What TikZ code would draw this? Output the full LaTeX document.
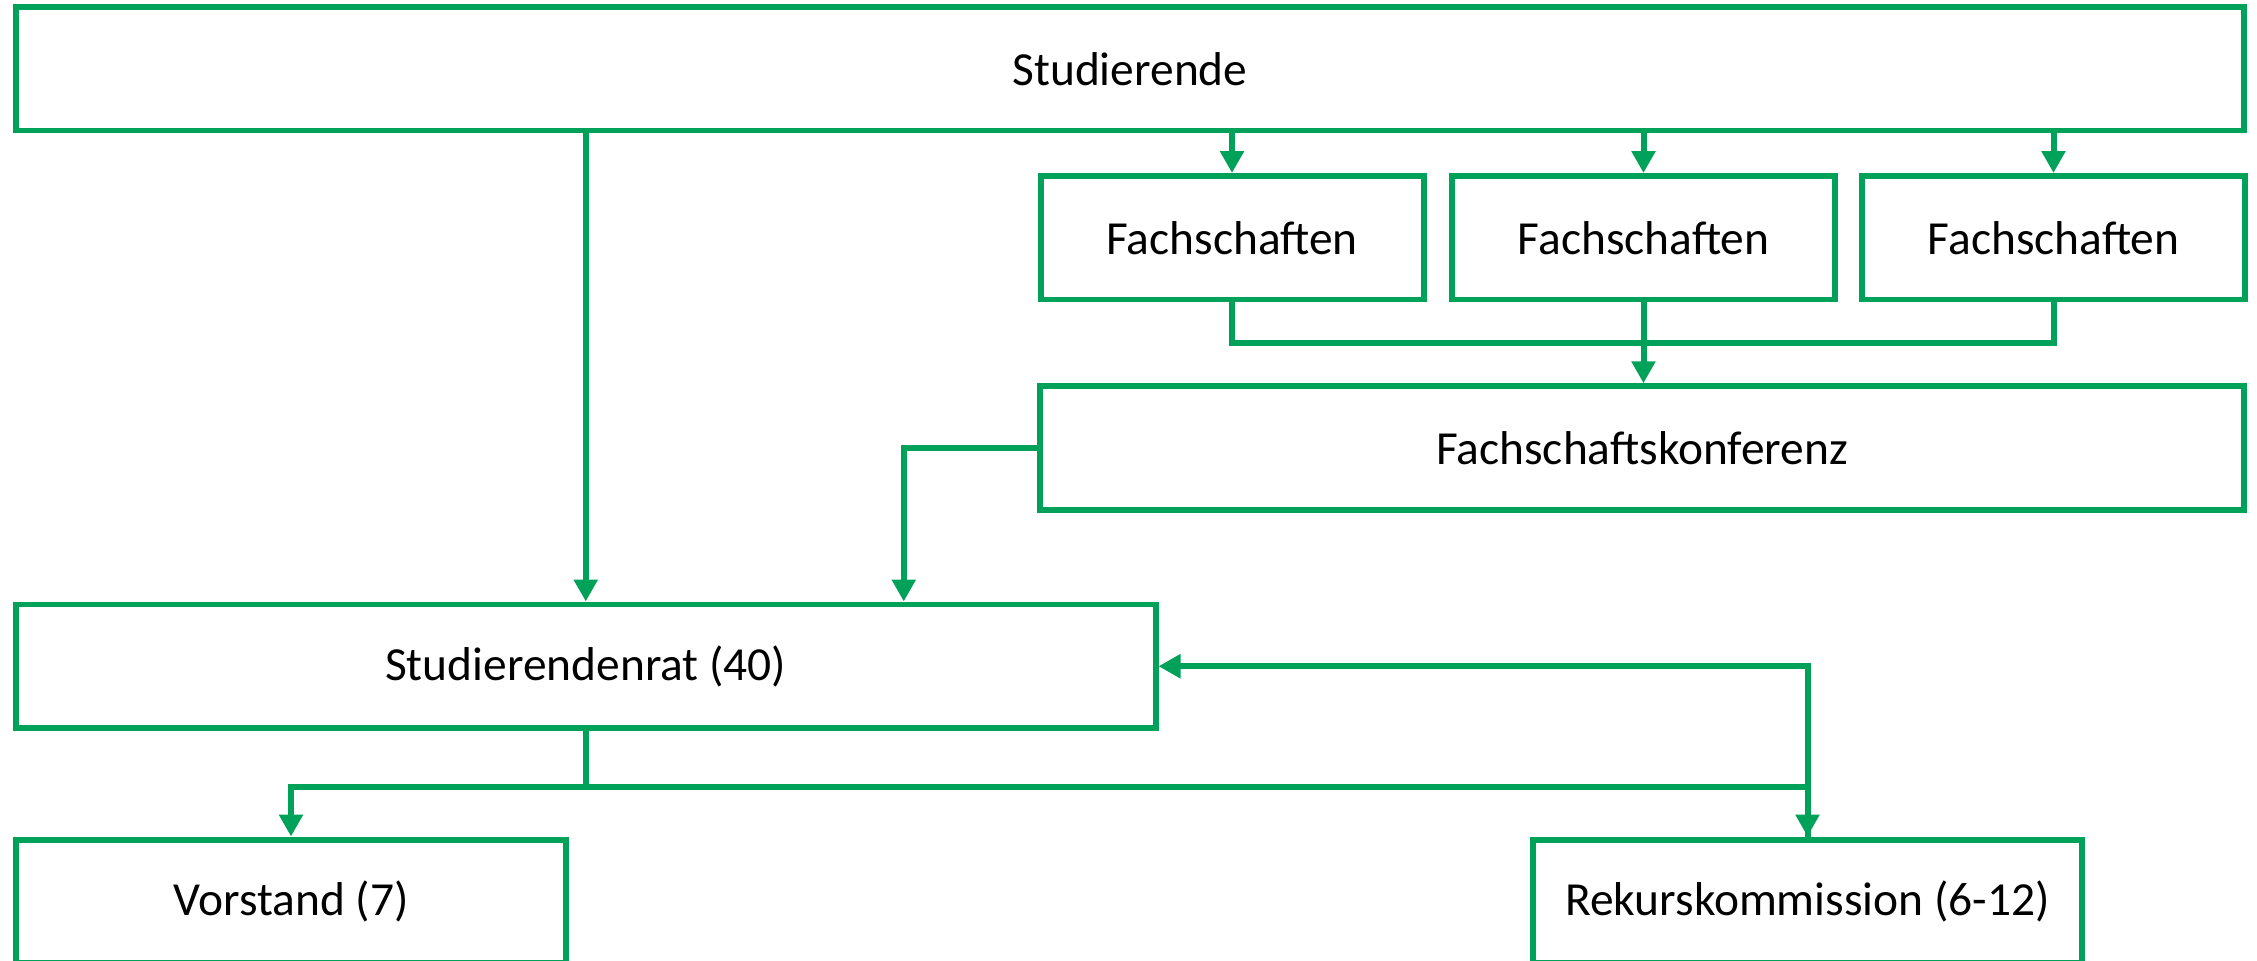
\documentclass[tikz,border=0pt]{standalone}
\usepackage{fontspec}
\setmainfont{Carlito}
\usetikzlibrary{arrows.meta,positioning}
\definecolor{orggreen}{RGB}{0,161,88}
\tikzset{
  box/.style={draw=orggreen, line width=1.7pt, rectangle, minimum height=1.235cm,
    inner sep=0pt, font=\fontsize{13.5}{16}\selectfont},
  lin/.style={draw=orggreen, line width=1.7pt},
  arr/.style={lin, -{Triangle[length=0.22cm,width=0.23cm]}},
  arrboth/.style={lin, {Triangle[length=0.22cm,width=0.23cm]}-{Triangle[length=0.22cm,width=0.23cm]}}
}

\begin{document}
\begin{tikzpicture}
	  \useasboundingbox (0,0) rectangle (22.57,9.60);
    % boxes
    \node[box, minimum width=22.28cm] (stud) at (11.30,8.9125) {Studierende};
    \node[box, minimum width=3.83cm] (f1) at (12.32,7.2225) {Fachschaften};
    \node[box, minimum width=3.83cm] (f2) at (16.435,7.2225) {Fachschaften};
    \node[box, minimum width=3.83cm] (f3) at (20.535,7.2225) {Fachschaften};
    \node[box, minimum width=12.04cm] (konf) at (16.42,5.12) {Fachschaftskonferenz};
    \node[box, minimum width=11.395cm] (rat) at (5.8575,2.9375) {Studierendenrat (40)};
    \node[box, minimum width=5.50cm] (vor) at (2.91,0.5875) {Vorstand (7)};
    \node[box, minimum width=5.49cm] (rek) at (18.075,0.5875) {Rekurskommission (6-12)};
    % connectors
    \foreach \f in {f1,f2,f3} \draw[arr] (\f.north |- stud.south) -- (\f.north);
    \coordinate (merge) at (16.435,6.17);
    \draw[lin] (f1.south) |- (merge) -| (f3.south);
    \draw[arr] (f2.south) -- (f2.south |- konf.north);
    \draw[arr] (rat.north |- stud.south) -- (rat.north);
    \draw[arr] (konf.west) -| ([xshift=3.18cm]rat.north);
    \draw[arr] (rat.south) -- ++(0,-0.56) coordinate (split) -| (vor.north);
    \draw[lin] (split) -| (rek.north);
    \draw[arrboth] (rat.east) -| (rek.north);
\end{tikzpicture}
\end{document}
